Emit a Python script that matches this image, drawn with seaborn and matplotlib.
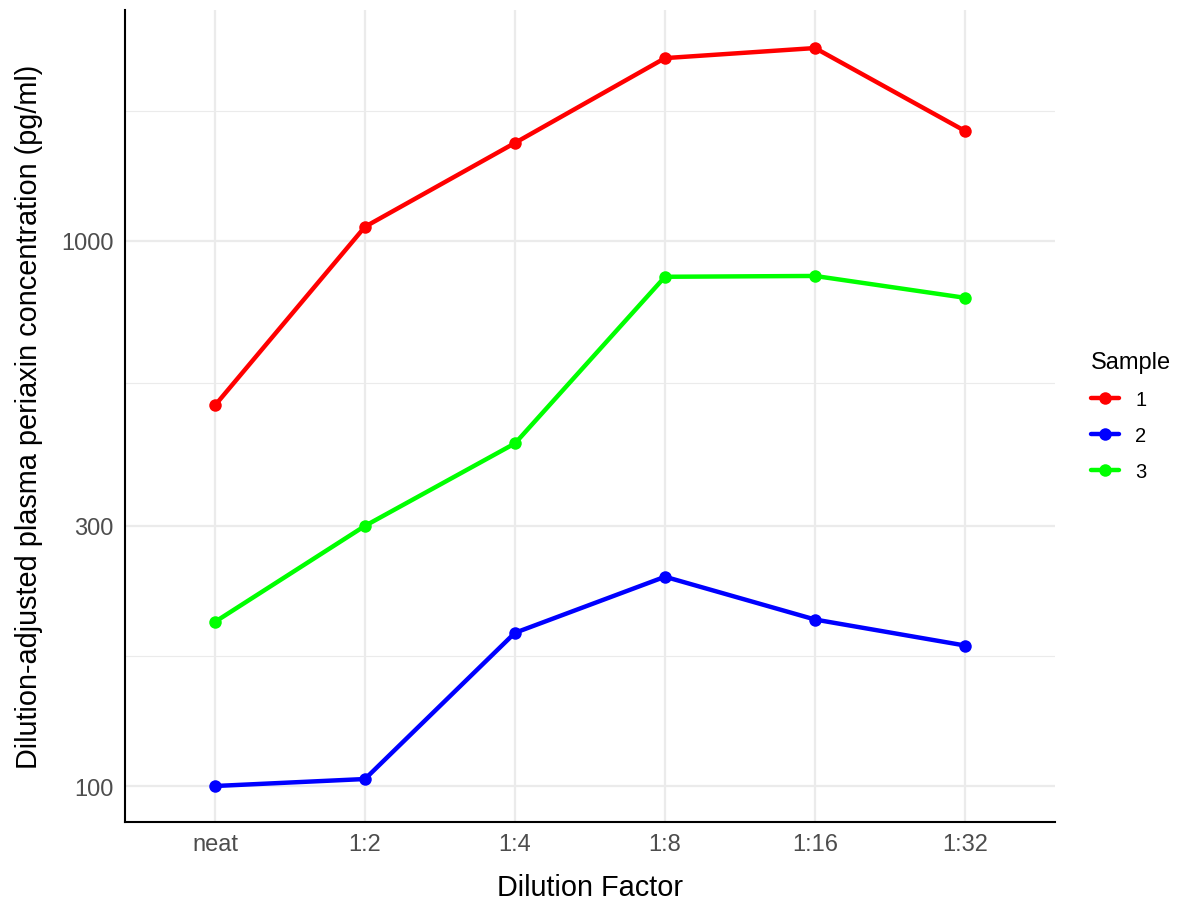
import seaborn as sns
import pandas as pd
import matplotlib.pyplot as plt

#-----------------------------------------------------------------------------------------------------------------------
"""Data"""
dilutions = ['neat', '1:2', '1:4', '1:8', '1:16', '1:32']
sample_1 = [499, 1061, 1512, 2163, 2257, 1590]
sample_2 = [100, 103, 191, 242, 202, 181]
sample_3 = [200, 300, 425, 859, 862, 786]

y_ticks = [100, 300, 1000]
y_minor = [173.2, 547.7, 1732]

df = pd.DataFrame({
    'Dilution': dilutions * 3,
    'Conc': sample_1 + sample_2 + sample_3,
    'Sample': ['1'] * 6 + ['2'] * 6 + ['3'] * 6,
})

MyFont = ['Liberation Sans', 'DejaVu Sans']

#-----------------------------------------------------------------------------------------------------------------------
"""Figure"""
sns.set_style('white')
plt.rcParams['font.family'] = MyFont
plt.rcParams['text.color'] = 'black'

fig = plt.figure(figsize=(11.8, 9.04), dpi=100)
ax1 = fig.add_axes([0.1059, 0.0896, 0.7882, 0.8982])

sns.lineplot(data=df, x='Dilution', y='Conc', hue='Sample', palette=['#ff0000', '#0000ff', '#00ff00'],
             marker='o', markersize=9, markeredgewidth=0, linewidth=3.2, sort=False, ax=ax1)

#-----------------------------------------------------------------------------------------------------------------------
"""Axes"""
ax1.set_yscale('log')
ax1.set_ylim(85.9, 2650)
ax1.set_xlim(-0.6, 5.6)
ax1.set_yticks(y_ticks)
ax1.set_yticklabels([str(v) for v in y_ticks])
ax1.set_yticks(y_minor, minor=True)
ax1.set_yticklabels([], minor=True)
ax1.set_xticks(range(len(dilutions)))
ax1.set_xticklabels(dilutions)

ax1.grid(True, which='major', color='#ebebeb', linewidth=1.6)
ax1.grid(True, which='minor', axis='y', color='#ebebeb', linewidth=0.8)
ax1.set_axisbelow(True)

ax1.spines['top'].set_visible(False)
ax1.spines['right'].set_visible(False)
ax1.spines['left'].set_color('black')
ax1.spines['bottom'].set_color('black')
ax1.spines['left'].set_linewidth(1.5)
ax1.spines['bottom'].set_linewidth(1.5)
ax1.tick_params(axis='both', which='both', length=0, labelsize=17, colors='#4d4d4d', pad=8)

ax1.set_xlabel('Dilution Factor', fontsize=20.8, color='black', labelpad=13)
ax1.set_ylabel('Dilution-adjusted plasma periaxin concentration (pg/ml)', fontsize=20.8, color='black', labelpad=13)

#-----------------------------------------------------------------------------------------------------------------------
"""Legend"""
leg = ax1.legend(title='Sample', loc='center left', bbox_to_anchor=(1.03, 0.5), frameon=False,
                 fontsize=14.5, title_fontsize=17, handlelength=1.4, handletextpad=0.8, labelspacing=0.85,
                 borderaxespad=0)
leg._legend_box.align = 'left'
leg.get_title().set_color('black')
for t in leg.get_texts():
    t.set_color('black')

fig.savefig('out.png', dpi=100)
